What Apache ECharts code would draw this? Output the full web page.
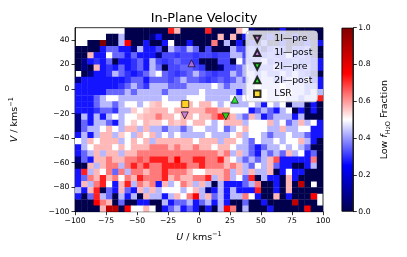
<!DOCTYPE html>
<html><head><meta charset="utf-8">
<script src="https://cdn.jsdelivr.net/npm/echarts@6/dist/echarts.min.js"></script>
<style>html,body{margin:0;padding:0;background:#fff}#c{width:407px;height:257px}</style>
</head><body><div id="c"></div>
<script>
// U bin left edges (km/s)
const uEdges = [-100,-95,-90,-85,-80,-75,-70,-65,-60,-55,-50,-45,-40,-35,-30,-25,-20,-15,-10,-5,0,5,10,15,20,25,30,35,40,45,50,55,60,65,70,75,80,85,90,95];
// V bin lower edges (km/s), top row first
const vEdges = [45,40,35,30,25,20,15,10,5,0,-5,-10,-15,-20,-25,-30,-35,-40,-45,-50,-55,-60,-65,-70,-75,-80,-85,-90,-95,-100];
const binSize = 5;
// Low f_H2O fraction in percent, null = no data (rows top->bottom, cols left->right)
const n = null;
const lowFracPct = [
[n,n,n,n,n,n,n,n,0,0,0,0,0, 0,0,72,57,0,0,0,0,72,0,0,0,0, 57,50,8,0,0,0,0,27,0,0,0,0,0,0],
[n,n,n,n,n,0,0,43,0,0,0,0,8, 27,0,0,0,0,0,0,0,0,0,57,0,57, 0,27,0,0,8,27,0,0,0,27,0,0,0,0],
[n,n,0,0,100,0,0,43,75,0,0,27,0, 0,27,50,0,0,27,0,0,0,63,0,43,0, 27,0,27,0,35,0,0,27,0,0,8,27,0,27],
[0,0,0,0,27,35,35,27,27,8,43,27,27, 32,0,43,35,32,43,35,0,32,0,0,0,43, 32,32,35,32,8,32,35,32,0,32,32,35,0,0],
[0,0,57,27,27,50,35,35,27,35,27,27,27, 8,32,32,30,32,32,30,32,32,30,32,32,43, 43,32,35,32,32,35,32,32,43,32,35,32,8,0],
[0,8,27,30,27,35,0,27,27,30,35,27,43, 32,30,32,35,32,32,30,0,0,0,32,32,0, 50,35,32,35,43,32,35,32,32,35,32,32,27,27],
[0,8,0,57,27,30,27,35,27,30,35,27,43, 35,0,32,32,35,35,32,30,0,0,8,32,32, 35,43,35,32,35,35,43,32,35,32,32,35,27,27],
[n,0,8,27,27,30,43,35,30,27,30,35,43, 50,35,32,30,32,35,43,35,32,30,32,32,43, 35,43,43,35,43,35,35,43,35,43,35,32,8,0],
[8,27,27,27,27,27,27,27,30,35,35,27,35, 35,35,32,35,43,35,35,32,30,32,35,32,35, 43,35,43,35,43,43,35,35,43,43,35,43,27,27],
[27,27,27,27,27,27,27,30,35,43,35,30,43, 43,43,35,35,35,43,43,43,43,50,43,35,43, 43,43,43,50,43,43,43,50,43,43,43,35,35,27],
[27,27,27,27,27,35,35,35,43,35,43,43,43, 43,35,43,43,43,43,43,50,43,43,43,43,43, 27,43,43,43,50,43,43,43,50,43,43,35,43,43],
[27,27,27,35,43,50,50,43,43,43,43,43,43, 43,50,43,43,43,50,50,50,43,43,43,43,50, 43,50,43,43,50,43,43,50,43,43,35,43,43,72],
[27,27,27,35,43,43,35,43,50,50,43,50,55, 57,50,50,50,57,57,50,57,57,50,43,50,43, 43,43,50,43,27,50,43,50,0,43,43,0,27,0],
[27,27,27,30,35,35,30,43,43,55,50,55,57, 57,57,50,57,57,57,57,57,63,63,57,57,50, 50,50,27,35,43,35,27,43,50,0,27,0,27,0],
[8,43,27,43,27,43,50,43,50,50,55,57,57, 63,57,57,50,57,57,50,57,57,63,72,63,57, 43,35,57,43,27,35,43,43,43,27,43,0,0,0],
[8,35,27,43,43,35,27,43,50,55,50,57,55, 55,50,57,55,57,50,57,57,50,43,50,57,57, 57,43,50,50,50,57,43,50,35,43,57,43,50,27],
[8,35,43,43,50,57,50,43,57,57,43,57,43, 43,35,43,43,35,43,50,50,43,43,50,35,43, 50,57,50,50,50,43,43,57,43,43,50,50,27,27],
[27,43,27,43,57,57,43,55,50,43,57,50,57, 43,50,43,50,43,43,43,43,50,43,43,43,50, 57,43,50,50,43,35,43,43,50,43,43,35,27,27],
[50,43,57,50,57,57,57,43,50,57,50,57,43, 57,57,57,57,57,57,50,57,57,57,43,57,57, 50,43,35,50,43,43,50,43,50,50,57,43,27,0],
[27,43,50,57,57,57,50,57,50,57,57,57,63, 63,63,57,63,57,57,63,57,57,50,57,57,50, 43,43,35,27,35,43,43,50,43,50,43,35,0,0],
[27,35,43,57,43,57,57,43,57,57,63,63,63, 63,63,63,63,63,63,63,63,63,63,57,63,43, 57,43,35,27,43,35,43,35,57,43,50,27,35,0],
[8,35,27,57,57,63,57,57,63,63,67,63,72, 72,72,63,75,63,63,72,72,63,63,72,57,50, 43,35,43,35,43,57,67,27,27,27,27,27,63,0],
[0,0,57,43,57,63,63,43,63,72,63,72,63, 63,72,72,72,72,63,63,72,63,63,63,57,63, 57,43,35,50,43,57,35,27,27,0,0,27,43,0],
[27,72,43,57,50,63,35,63,43,63,63,57,63, 63,72,63,63,63,57,50,50,57,57,57,63,43, 57,43,57,43,43,57,0,27,50,27,27,0,0,0],
[27,35,63,57,72,57,63,50,63,57,72,63,63, 63,72,57,63,57,57,63,63,72,43,57,63,43, 50,35,72,0,43,27,27,0,57,27,0,0,0,0],
[27,57,43,63,72,50,27,57,72,43,63,57,63, 27,57,43,50,63,57,43,57,43,0,43,27,27, 27,35,43,63,0,0,27,0,57,0,88,0,n,0],
[43,27,57,72,0,35,27,57,35,27,57,43,57, 43,50,50,50,43,50,57,43,8,27,43,27,43, 27,27,27,72,0,0,27,0,57,0,0,0,0,0],
[27,0,35,72,43,35,0,43,27,43,0,57,43, 43,27,43,57,50,63,75,43,57,35,43,27,43, 43,63,50,27,0,0,57,0,27,0,0,0,75,n],
[0,0,0,75,63,57,0,35,0,0,27,27,0, 0,43,27,35,35,43,27,35,43,27,43,27,0, 0,35,0,0,27,0,0,0,0,88,0,0,0,n],
[0,0,0,0,57,88,88,0,75,50,50,57,50, 0,27,35,43,27,35,27,0,27,0,43,75,63, 0,43,0,0,0,27,0,0,0,0,0,75,0,0]
];
// Markers (U, V) km/s
const pt1IPre = [-11.5, -21.5];
const pt1IPost = [-6, 21];
const pt2IPre = [21.6, -22.3];
const pt2IPost = [28.9, -8.7];
const ptLSR = [-11.1, -12.2];
const yTicks = [-100,-80,-60,-40,-20,0,20,40];

const seismic = ['#00004d','#0000ff','#ffffff','#ff0000','#800000'];
const cells = [];
lowFracPct.forEach((row, r) => row.forEach((val, c) => {
  if (val !== null) cells.push([uEdges[c], vEdges[r], val / 100]);
}));
const FF = 'DejaVu Sans';
const minus = v => String(v).replace('-', '\u2212');
const downTri = 'path://M0,0L10,0L5,10Z';
const upTri = 'path://M5,0L10,10L0,10Z';
const square = 'path://M0,0L10,0L10,10L0,10Z';

const chart = echarts.init(document.getElementById('c'), null, {renderer: 'canvas'});
const mk = (name, pt, sym, col) => ({type: 'scatter', name: name, data: [pt], symbol: sym, symbolSize: 7,
  symbolKeepAspect: true, z: 5, itemStyle: {color: col, borderColor: '#000', borderWidth: 0.8}});
chart.setOption({
  animation: false,
  backgroundColor: '#fff',
  textStyle: {fontFamily: FF},
  title: {text: 'In-Plane Velocity', left: 199, top: 7, textAlign: 'center',
    textStyle: {fontFamily: FF, fontSize: 12.9, fontWeight: 'normal', color: '#000'}},
  grid: [
    {left: 75, right: 84, top: 27.7, bottom: 45.3, show: true, borderColor: '#000', borderWidth: 0.8, backgroundColor: 'transparent'},
    {left: 341.5, width: 11.8, top: 27.7, height: 184}
  ],
  xAxis: [
    {type: 'value', gridIndex: 0, min: -100, max: 100, interval: 25,
      axisLine: {show: true, onZero: false, lineStyle: {color: '#000', width: 0.8}},
      axisTick: {show: true, inside: false, length: 3.5, lineStyle: {color: '#000', width: 0.8}},
      axisLabel: {color: '#000', fontSize: 7.7, fontFamily: FF, margin: 5, formatter: minus},
      splitLine: {show: false},
      name: '{it|U} / kms{sup|\u22121}', nameLocation: 'middle', nameGap: 19,
      nameTextStyle: {color: '#000', fontSize: 9.5, fontFamily: FF, lineHeight: 13,
        rich: {it: {fontStyle: 'italic', fontSize: 9.5, fontFamily: FF, lineHeight: 13, color: '#000'},
               sup: {fontSize: 6.6, fontFamily: FF, lineHeight: 6, verticalAlign: 'top', color: '#000'}}}},
    {type: 'category', gridIndex: 1, data: ['cb'], show: false}
  ],
  yAxis: [
    {type: 'value', gridIndex: 0, min: -100, max: 50,
      axisLine: {show: true, onZero: false, lineStyle: {color: '#000', width: 0.8}},
      axisTick: {show: true, inside: false, length: 3.5, customValues: yTicks, lineStyle: {color: '#000', width: 0.8}},
      axisLabel: {color: '#000', fontSize: 7.7, fontFamily: FF, margin: 5.5, customValues: yTicks, formatter: minus},
      splitLine: {show: false},
      name: '{it|V} / kms{sup|\u22121}', nameLocation: 'middle', nameGap: 54,
      nameTextStyle: {color: '#000', fontSize: 9.5, fontFamily: FF, lineHeight: 13,
        rich: {it: {fontStyle: 'italic', fontSize: 9.5, fontFamily: FF, lineHeight: 13, color: '#000'},
               sup: {fontSize: 6.6, fontFamily: FF, lineHeight: 6, verticalAlign: 'top', color: '#000'}}}},
    {type: 'value', gridIndex: 1, min: 0, max: 1, interval: 0.2, position: 'right',
      axisLine: {show: true, lineStyle: {color: '#000', width: 0.8}},
      axisTick: {show: true, inside: false, length: 3.5, lineStyle: {color: '#000', width: 0.8}},
      axisLabel: {color: '#000', fontSize: 7.7, fontFamily: FF, margin: 5, formatter: v => v.toFixed(1)},
      splitLine: {show: false},
      name: 'Low {it|f}{sub|H}{sub2|2}{sub|O} Fraction', nameLocation: 'middle', nameGap: 24, nameRotate: 90,
      nameTextStyle: {color: '#000', fontSize: 9.5, fontFamily: FF, lineHeight: 14,
        rich: {it: {fontStyle: 'italic', fontSize: 9.5, fontFamily: FF, lineHeight: 14, color: '#000'},
               sub: {fontSize: 6.6, fontFamily: FF, lineHeight: 6, verticalAlign: 'bottom', color: '#000'},
               sub2: {fontSize: 5, fontFamily: FF, lineHeight: 4, verticalAlign: 'bottom', color: '#000'}}}}
  ],
  visualMap: {type: 'continuous', show: false, min: 0, max: 1, dimension: 2, seriesIndex: 0,
    inRange: {color: seismic}},
  legend: {orient: 'vertical', left: 246, top: 31, padding: [3, 5, 3, 7], itemGap: 3.7,
    itemWidth: 24, itemHeight: 6.5, symbolKeepAspect: true,
    backgroundColor: 'rgba(255,255,255,0.8)', borderColor: '#cccccc',
    borderWidth: 1, borderRadius: 3,
    textStyle: {fontFamily: FF, fontSize: 9.3, color: '#000', lineHeight: 10},
    data: ['1I\u2014pre', '1I\u2014post', '2I\u2014pre', '2I\u2014post', 'LSR']},
  series: [
    {type: 'custom', xAxisIndex: 0, yAxisIndex: 0, data: cells, clip: true, silent: true,
      renderItem: (params, api) => {
        const u = api.value(0), v = api.value(1);
        const p0 = api.coord([u, v + binSize]);
        const p1 = api.coord([u + binSize, v]);
        return {type: 'rect', shape: {x: p0[0], y: p0[1], width: p1[0] - p0[0] + 0.4, height: p1[1] - p0[1] + 0.4},
          style: {fill: api.visual('color')}};
      }},
    {type: 'bar', xAxisIndex: 1, yAxisIndex: 1, data: [1], barWidth: '100%', silent: true,
      itemStyle: {borderColor: '#000', borderWidth: 0.8,
        color: {type: 'linear', x: 0, y: 1, x2: 0, y2: 0,
          colorStops: seismic.map((col, i) => ({offset: i / 4, color: col}))}}},
    mk('1I\u2014pre', pt1IPre, downTri, '#c070d8'),
    mk('1I\u2014post', pt1IPost, upTri, '#c070d8'),
    mk('2I\u2014pre', pt2IPre, downTri, '#00dd00'),
    mk('2I\u2014post', pt2IPost, upTri, '#00dd00'),
    mk('LSR', ptLSR, square, '#ffd700')
  ]
});
</script></body></html>
